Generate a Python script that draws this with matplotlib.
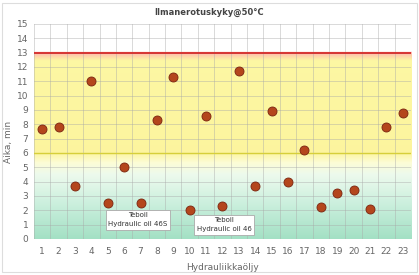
import numpy as np
import matplotlib.pyplot as plt
from matplotlib.patches import Rectangle

# data
oils = list(range(1, 24))
times = [7.7, 7.8, 3.7, 11.0, 2.5, 5.0, 2.5, 8.3, 11.3, 2.0, 8.6, 2.3,
         11.7, 3.7, 8.9, 4.0, 6.2, 2.2, 3.2, 3.4, 2.1, 7.8, 8.8]
notes = ["Teboil\nHydraulic oil 46S", "Teboil\nHydraulic oil 46"]
note_pos = [(6.85, 1.35), (12.1, 1.0)]
limit_red = 13
limit_yellow = 6

fig = plt.figure(figsize=(4.19, 2.75), dpi=100)
ax = fig.add_axes([0.081, 0.131, 0.9, 0.782])

# background colour bands
stops_y = [0, 2.5, 4.5, 5.3, 6.0, 12.4, 12.95, 13.0, 13.01, 15]
stops_c = [(0.64, 0.88, 0.77), (0.80, 0.94, 0.87), (0.93, 0.98, 0.93),
           (0.99, 0.99, 0.84), (0.99, 0.96, 0.62), (0.99, 0.97, 0.64),
           (1.0, 0.72, 0.68), (1.0, 0.70, 0.68), (1, 1, 1), (1, 1, 1)]
yy = np.linspace(0, 15, 600)
img = np.zeros((len(yy), 1, 3))
for k in range(3):
    img[:, 0, k] = np.interp(yy, stops_y, [c[k] for c in stops_c])
ax.imshow(img, extent=[0.5, 23.5, 0, 15], origin='lower', aspect='auto', zorder=0)

ax.axhline(limit_red, color='#d42a2a', lw=1.3, zorder=2)
ax.axhline(limit_yellow, color='#d6cf3a', lw=1.0, zorder=2)

for x in np.arange(0.5, 24, 1):
    ax.axvline(x, color='#a8a8a8', lw=0.5, alpha=0.6, zorder=1)
for y in range(0, 16):
    ax.axhline(y, color='#a8a8a8', lw=0.5, alpha=0.6, zorder=1)

ax.plot(oils, times, 'o', ms=6.5, color='#b4461c', mec='#7a2410', mew=0.6, zorder=3)

for txt, (x, y) in zip(notes, note_pos):
    ax.text(x, y, txt, ha='center', va='center', fontsize=5, color='#333333', zorder=4,
            linespacing=1.5,
            bbox=dict(boxstyle='square,pad=0.4', fc='white', ec='#aaaaaa', lw=0.6))

ax.set_xlim(0.5, 23.5)
ax.set_ylim(0, 15)
ax.set_xticks(oils)
ax.set_yticks(range(0, 16))
ax.tick_params(length=0, labelsize=6.5, colors='#666666', pad=6)
ax.tick_params(axis='y', pad=4)
for s in ax.spines.values():
    s.set_visible(False)

fig.text(0.5, 0.955, "Ilmanerotuskyky@50°C", ha='center', va='center',
         fontsize=6, fontweight='bold', color='#444444')
ax.set_ylabel("Aika, min", fontsize=6.5, color='#666666')
ax.yaxis.set_label_coords(-0.056, 0.45)
ax.set_xlabel("Hydrauliikkaöljy", fontsize=6.5, color='#666666', labelpad=5)

fig.patches.append(Rectangle((0.005, 0.01), 0.99, 0.98, transform=fig.transFigure,
                             fill=False, ec='#dddddd', lw=0.8))

fig.savefig('out.png', dpi=100)
